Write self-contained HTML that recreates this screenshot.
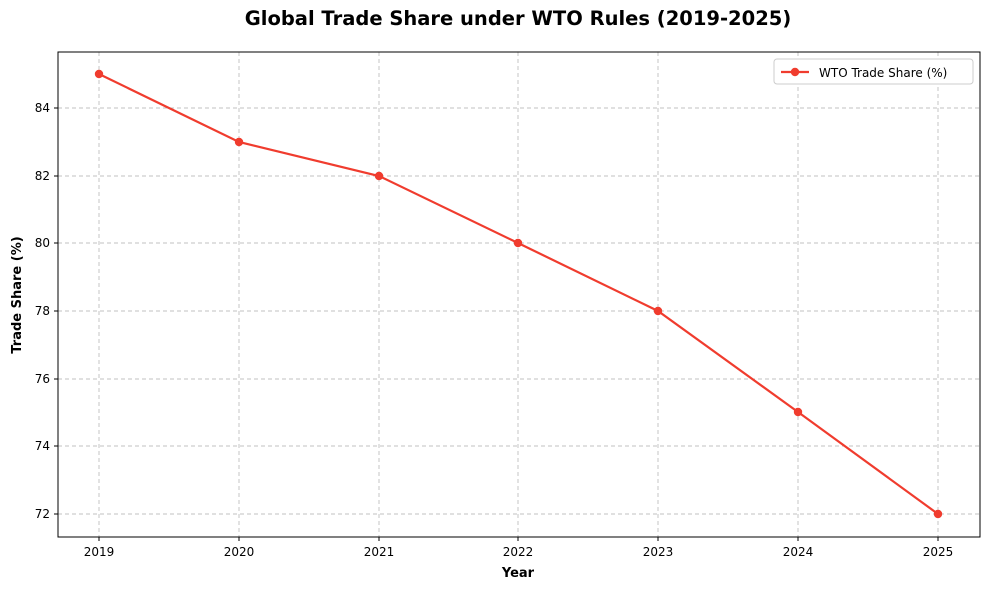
<!DOCTYPE html>
<html><head><meta charset="utf-8"><style>body{margin:0;background:#fff}svg{display:block}text{font-family:"DejaVu Sans","Liberation Sans",sans-serif}</style></head>
<body>
<svg width="989" height="589" viewBox="0 0 989 589" xmlns="http://www.w3.org/2000/svg">
<rect width="989" height="589" fill="#fff"/>
<text x="518" y="25" font-size="19.5" font-weight="bold" text-anchor="middle">Global Trade Share under WTO Rules (2019-2025)</text>
<g stroke="#c0c0c0" stroke-width="0.9" stroke-dasharray="4,3">
<line x1="99" y1="52" x2="99" y2="537"/><line x1="239" y1="52" x2="239" y2="537"/><line x1="379" y1="52" x2="379" y2="537"/><line x1="518" y1="52" x2="518" y2="537"/><line x1="658" y1="52" x2="658" y2="537"/><line x1="798" y1="52" x2="798" y2="537"/><line x1="938" y1="52" x2="938" y2="537"/>
<line x1="58" y1="108" x2="980" y2="108"/><line x1="58" y1="176" x2="980" y2="176"/><line x1="58" y1="243" x2="980" y2="243"/><line x1="58" y1="311" x2="980" y2="311"/><line x1="58" y1="379" x2="980" y2="379"/><line x1="58" y1="446" x2="980" y2="446"/><line x1="58" y1="514" x2="980" y2="514"/>
</g>
<rect x="58" y="52" width="922" height="485" fill="none" stroke="#000" stroke-width="1"/>
<g stroke="#000" stroke-width="1">
<line x1="99" y1="537" x2="99" y2="541"/><line x1="239" y1="537" x2="239" y2="541"/><line x1="379" y1="537" x2="379" y2="541"/><line x1="518" y1="537" x2="518" y2="541"/><line x1="658" y1="537" x2="658" y2="541"/><line x1="798" y1="537" x2="798" y2="541"/><line x1="938" y1="537" x2="938" y2="541"/>
<line x1="54" y1="108" x2="58" y2="108"/><line x1="54" y1="176" x2="58" y2="176"/><line x1="54" y1="243" x2="58" y2="243"/><line x1="54" y1="311" x2="58" y2="311"/><line x1="54" y1="379" x2="58" y2="379"/><line x1="54" y1="446" x2="58" y2="446"/><line x1="54" y1="514" x2="58" y2="514"/>
</g>
<g font-size="12" text-anchor="middle">
<text x="99" y="556">2019</text><text x="239" y="556">2020</text><text x="379" y="556">2021</text><text x="518" y="556">2022</text><text x="658" y="556">2023</text><text x="798" y="556">2024</text><text x="938" y="556">2025</text>
</g>
<g font-size="12" text-anchor="end">
<text x="50" y="112">84</text><text x="50" y="180">82</text><text x="50" y="247">80</text><text x="50" y="315">78</text><text x="50" y="383">76</text><text x="50" y="450">74</text><text x="50" y="518">72</text>
</g>
<text x="518" y="577" font-size="13" font-weight="bold" text-anchor="middle">Year</text>
<text transform="translate(21,295) rotate(-90)" font-size="13" font-weight="bold" text-anchor="middle">Trade Share (%)</text>
<polyline points="99,74 239,142 379,176 518,243 658,311 798,412 938,514" fill="none" stroke="#f03c2e" stroke-width="2.2"/>
<g fill="#f03c2e">
<circle cx="99" cy="74" r="4.2"/><circle cx="239" cy="142" r="4.2"/><circle cx="379" cy="176" r="4.2"/><circle cx="518" cy="243" r="4.2"/><circle cx="658" cy="311" r="4.2"/><circle cx="798" cy="412" r="4.2"/><circle cx="938" cy="514" r="4.2"/>
</g>
<rect x="774" y="59" width="199" height="25" rx="3" fill="#fff" stroke="#ccc"/>
<line x1="781" y1="72" x2="809" y2="72" stroke="#f03c2e" stroke-width="2.2"/>
<circle cx="795" cy="72" r="4.2" fill="#f03c2e"/>
<text x="819" y="77" font-size="12">WTO Trade Share (%)</text>
</svg>
</body></html>
